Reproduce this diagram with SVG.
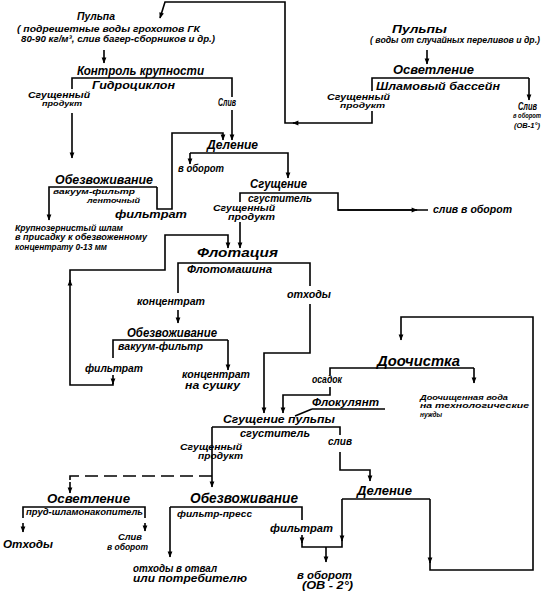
<svg xmlns="http://www.w3.org/2000/svg" width="549" height="598" viewBox="0 0 549 598">
<defs>
<marker id="a" viewBox="0 0 10 10" refX="9" refY="5" markerWidth="7" markerHeight="6" orient="auto" markerUnits="userSpaceOnUse"><path d="M0,1 L10,5 L0,9 z" fill="#000"/></marker>
<style>
text{font-family:"Liberation Sans",Arial,sans-serif;font-style:italic;font-weight:bold;fill:#000}
.h{font-size:13px}
.b{font-size:14px}
.s{font-size:11px}
.l{font-size:10px}
.n{font-size:9px}
.m{font-size:8px}
.t{font-size:7px}
.ln{fill:none;stroke:#000;stroke-width:1.6}
.ar{marker-end:url(#a)}
.ds{stroke-dasharray:13,6}
</style>
</defs>
<rect width="549" height="598" fill="#fff"/>
<g id="connectors">
<path class="ln ar" d="M372,111 V123 H293"/>
<path class="ln ar" d="M294,123 H285 V2 H165 L160,18"/>
<path class="ln ar" d="M104,50 V63"/>
<path class="ln" d="M72,89 V78 H232 V97"/>
<path class="ln ar" d="M232,110 V140"/>
<path class="ln ar" d="M72,113 V158"/>
<path class="ln ar" d="M157,187 H49 V220"/>
<path class="ln ar" d="M157,187 V209 H172 V133 H223 V140"/>
<path class="ln ar" d="M190,153 H288 V178"/>
<path class="ln ar" d="M190,153 V164"/>
<path class="ln" d="M240,202 V193 H338 V210 H428"/>
<path class="ln ar" d="M338,210 H417"/>
<path class="ln ar" d="M240,222 V248"/>
<path class="ln" d="M178,293 V263 H310 V286"/>
<path class="ln ar" d="M310,304 V353 H264 V413"/>
<path class="ln ar" d="M178,310 V323"/>
<path class="ln" d="M113,358 V340 H228"/>
<path class="ln ar" d="M228,340 V370"/>
<path class="ln ar" d="M113,375 V384"/>
<path class="ln ar" d="M113,383 V385 H70 V280"/>
<path class="ln ar" d="M70,282 V270 H165 V235 H228 V248"/>
<path class="ln" d="M330,375 V368 H474"/>
<path class="ln ar" d="M474,368 V383"/>
<path class="ln ar" d="M330,387 V395 H283 V413"/>
<path class="ln" d="M312,409 H385 M312,409 L295,416"/>
<path class="ln" d="M340,435 V427 H212"/>
<path class="ln ar" d="M212,427 V487"/>
<path class="ln ar" d="M340,452 V470 H370 V481"/>
<path class="ln ds" d="M212,476 H70 V484"/>
<path class="ln ar" d="M70,482 V493"/>
<path class="ln" d="M23,518 V507 H145 V518"/>
<path class="ln ar" d="M23,523 V532"/>
<path class="ln ar" d="M145,523 V531"/>
<path class="ln" d="M302,520 V507 H170"/>
<path class="ln ar" d="M170,507 V557"/>
<path class="ln ar" d="M302,535 V543"/>
<path class="ln" d="M302,540 V547 H342 V538"/>
<path class="ln ar" d="M326,547 V562"/>
<path class="ln ar" d="M342,499 V541"/>
<path class="ln" d="M342,499 H430"/>
<path class="ln ar" d="M430,499 V563"/>
<path class="ln ar" d="M430,560 V570 H533 V317 H401 V340"/>
<path class="ln" d="M372,91 V78 H529"/>
<path class="ln ar" d="M529,78 V100"/>
<path class="ln ar" d="M427,50 V64"/>
</g>
<g id="n-pulpa">
<text class="s" x="77" y="20" textLength="38" lengthAdjust="spacingAndGlyphs">Пульпа</text>
<text class="n" x="17" y="32" textLength="183" lengthAdjust="spacingAndGlyphs">( подрешетные воды грохотов  ГК</text>
<text class="n" x="21" y="42" textLength="194" lengthAdjust="spacingAndGlyphs">80-90 кг/м³, слив багер-сборников и др.)</text>
</g>
<g id="n-kontrol">
<text class="h" x="77" y="75" textLength="127" lengthAdjust="spacingAndGlyphs">Контроль крупности</text>
<text class="s" x="92" y="89" textLength="83" lengthAdjust="spacingAndGlyphs">Гидроциклон</text>
<text class="n" x="28" y="98" textLength="62" lengthAdjust="spacingAndGlyphs">Сгущенный</text>
<text class="m" x="42" y="106" textLength="40" lengthAdjust="spacingAndGlyphs">продукт</text>
<text class="l" x="218" y="106" textLength="18" lengthAdjust="spacingAndGlyphs">Слив</text>
</g>
<g id="n-obezv1">
<text class="h" x="55" y="184" textLength="98" lengthAdjust="spacingAndGlyphs">Обезвоживание</text>
<text class="m" x="53" y="194" textLength="82" lengthAdjust="spacingAndGlyphs">вакуум-фильтр</text>
<text class="m" x="87" y="203" textLength="53" lengthAdjust="spacingAndGlyphs">ленточный</text>
<text class="l" x="115" y="218" textLength="72" lengthAdjust="spacingAndGlyphs">фильтрат</text>
<text class="n" x="15" y="231" textLength="108" lengthAdjust="spacingAndGlyphs">Крупнозернистый шлам</text>
<text class="n" x="15" y="240" textLength="132" lengthAdjust="spacingAndGlyphs">в присадку к обезвоженному</text>
<text class="n" x="15" y="250" textLength="92" lengthAdjust="spacingAndGlyphs">концентрату  0-13 мм</text>
</g>
<g id="n-delenie1">
<text class="h" x="207" y="149" textLength="51" lengthAdjust="spacingAndGlyphs">Деление</text>
<text class="l" x="178" y="172" textLength="46" lengthAdjust="spacingAndGlyphs">в оборот</text>
</g>
<g id="n-sgushch1">
<text class="h" x="250" y="188" textLength="57" lengthAdjust="spacingAndGlyphs">Сгущение</text>
<text class="l" x="248" y="202" textLength="64" lengthAdjust="spacingAndGlyphs">сгуститель</text>
<text class="n" x="213" y="211" textLength="62" lengthAdjust="spacingAndGlyphs">Сгущенный</text>
<text class="n" x="228" y="220" textLength="47" lengthAdjust="spacingAndGlyphs">продукт</text>
<text class="l" x="433" y="213" textLength="79" lengthAdjust="spacingAndGlyphs">слив в оборот</text>
</g>
<g id="n-flot">
<text class="h" x="197" y="257" textLength="81" lengthAdjust="spacingAndGlyphs">Флотация</text>
<text class="s" x="187" y="273" textLength="85" lengthAdjust="spacingAndGlyphs">Флотомашина</text>
<text class="l" x="137" y="305" textLength="68" lengthAdjust="spacingAndGlyphs">концентрат</text>
<text class="l" x="287" y="298" textLength="44" lengthAdjust="spacingAndGlyphs">отходы</text>
</g>
<g id="n-obezv2">
<text class="h" x="127" y="337" textLength="90" lengthAdjust="spacingAndGlyphs">Обезвоживание</text>
<text class="l" x="118" y="350" textLength="85" lengthAdjust="spacingAndGlyphs">вакуум-фильтр</text>
<text class="l" x="85" y="372" textLength="58" lengthAdjust="spacingAndGlyphs">фильтрат</text>
<text class="l" x="182" y="378" textLength="68" lengthAdjust="spacingAndGlyphs">концентрат</text>
<text class="l" x="185" y="389" textLength="55" lengthAdjust="spacingAndGlyphs">на сушку</text>
</g>
<g id="n-doochistka">
<text class="b" x="377" y="366" textLength="83" lengthAdjust="spacingAndGlyphs">Доочистка</text>
<text class="l" x="312" y="383" textLength="30" lengthAdjust="spacingAndGlyphs">осадок</text>
<text class="m" x="420" y="400" textLength="88" lengthAdjust="spacingAndGlyphs">Доочищенная вода</text>
<text class="m" x="420" y="408" textLength="109" lengthAdjust="spacingAndGlyphs">на технологические</text>
<text class="m" x="420" y="417" textLength="22" lengthAdjust="spacingAndGlyphs">нужды</text>
</g>
<g id="n-flokulyant">
<text class="l" x="312" y="406" textLength="67" lengthAdjust="spacingAndGlyphs">Флокулянт</text>
</g>
<g id="n-sgushch2">
<text class="s" x="223" y="423" textLength="112" lengthAdjust="spacingAndGlyphs">Сгущение пульпы</text>
<text class="l" x="240" y="437" textLength="70" lengthAdjust="spacingAndGlyphs">сгуститель</text>
<text class="l" x="328" y="445" textLength="24" lengthAdjust="spacingAndGlyphs">слив</text>
<text class="n" x="180" y="450" textLength="62" lengthAdjust="spacingAndGlyphs">Сгущенный</text>
<text class="n" x="198" y="459" textLength="45" lengthAdjust="spacingAndGlyphs">продукт</text>
</g>
<g id="n-osvetl2">
<text class="h" x="47" y="503" textLength="83" lengthAdjust="spacingAndGlyphs">Осветление</text>
<text class="n" x="26" y="515" textLength="117" lengthAdjust="spacingAndGlyphs">пруд-шламонакопитель</text>
<text class="l" x="3" y="548" textLength="50" lengthAdjust="spacingAndGlyphs">Отходы</text>
<text class="n" x="118" y="540" textLength="24" lengthAdjust="spacingAndGlyphs">Слив</text>
<text class="n" x="107" y="550" textLength="41" lengthAdjust="spacingAndGlyphs">в оборот</text>
</g>
<g id="n-obezv3">
<text class="b" x="190" y="503" textLength="108" lengthAdjust="spacingAndGlyphs">Обезвоживание</text>
<text class="n" x="177" y="517" textLength="75" lengthAdjust="spacingAndGlyphs">фильтр-пресс</text>
<text class="l" x="270" y="532" textLength="63" lengthAdjust="spacingAndGlyphs">фильтрат</text>
<text class="l" x="133" y="572" textLength="84" lengthAdjust="spacingAndGlyphs">отходы в отвал</text>
<text class="l" x="133" y="582" textLength="114" lengthAdjust="spacingAndGlyphs">или  потребителю</text>
<text class="l" x="297" y="579" textLength="55" lengthAdjust="spacingAndGlyphs">в оборот</text>
<text class="l" x="302" y="589" textLength="51" lengthAdjust="spacingAndGlyphs">(ОВ - 2°)</text>
</g>
<g id="n-delenie2">
<text class="h" x="357" y="495" textLength="55" lengthAdjust="spacingAndGlyphs">Деление</text>
</g>
<g id="n-pulpy">
<text class="s" x="392" y="33" textLength="55" lengthAdjust="spacingAndGlyphs">Пульпы</text>
<text class="n" x="370" y="43" textLength="170" lengthAdjust="spacingAndGlyphs">( воды от случайных переливов и др.)</text>
</g>
<g id="n-osvetl1">
<text class="h" x="393" y="74" textLength="81" lengthAdjust="spacingAndGlyphs">Осветление</text>
<text class="s" x="376" y="90" textLength="124" lengthAdjust="spacingAndGlyphs">Шламовый бассейн</text>
<text class="n" x="327" y="100" textLength="63" lengthAdjust="spacingAndGlyphs">Сгущенный</text>
<text class="m" x="340" y="108" textLength="45" lengthAdjust="spacingAndGlyphs">продукт</text>
<text class="l" x="518" y="110" textLength="19" lengthAdjust="spacingAndGlyphs">Слив</text>
<text class="t" x="513" y="118" textLength="28" lengthAdjust="spacingAndGlyphs">в оборот</text>
<text class="m" x="514" y="128" textLength="26" lengthAdjust="spacingAndGlyphs">(ОВ-1°)</text>
</g>
</svg>
